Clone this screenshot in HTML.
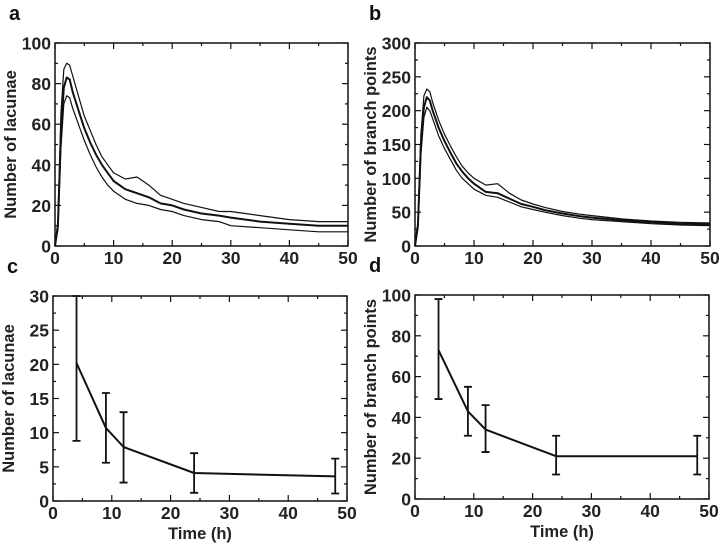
<!DOCTYPE html>
<html><head><meta charset="utf-8"><style>
body{margin:0;background:#fff;width:725px;height:545px;overflow:hidden}
svg{font-family:"Liberation Sans",Arial,sans-serif;font-weight:bold}
</style></head><body>
<svg id="fig" width="725" height="545" viewBox="0 0 725 545"></svg>
<script>
const tA=[0,0.5,1,1.5,2,2.5,3,4,5,6,7,8,9,10,12,14,16,18,20,22,25,28,30,35,40,45,50];
const aMean=[0,10,55,78,83,82,76,67,58,51,45,40,36,32,28,26,24,21,20,18,16,15,14,12,11,10,10];
const aUp=[0,12,65,87,90,89,84,74,64,57,50,44,40,36,33,34,30,25,23,21,19,17,17,15,13,12,12];
const aLow=[0,8,48,70,74,73,68,60,52,45,39,34,30,27,23,21,20,18,17,15,13,12,10,9,8,7,7];
const bMean=[0,30,150,205,220,215,200,175,155,138,122,110,100,92,80,78,70,62,58,53,48,44,42,38,35,33,32];
const bUp=[0,35,165,222,232,228,212,186,165,148,132,118,108,100,90,92,78,68,62,57,51,47,45,40,37,35,34];
const bLow=[0,25,135,190,205,200,188,163,144,128,112,100,92,84,75,72,65,58,54,50,45,41,39,36,33,31,30];
const tC=[4,9,12,24,48];
const cMean=[20.2,10.7,7.9,4.1,3.6];
const cHigh=[31,15.8,13,7,6.2];
const cLow=[8.8,5.6,2.7,1.2,1.1];
const dMean=[73,43,34,21,21];
const dHigh=[98,55,46,31,31];
const dLow=[49,31,23,12,12];
const xTicks=[0,10,20,30,40,50];
const aTicks=[0,20,40,60,80,100];
const bTicks=[0,50,100,150,200,250,300];
const cTicks=[0,5,10,15,20,25,30];
const dTicks=[0,20,40,60,80,100];

const NS="http://www.w3.org/2000/svg";
const svg=document.getElementById('fig');
function mk(tag,attrs,parent){const e=document.createElementNS(NS,tag);for(const k in attrs)e.setAttribute(k,attrs[k]);(parent||svg).appendChild(e);return e;}

function panel(o){
  const g=mk('g',{});
  
  
  const X=v=>o.L+(v-0)/50*(o.R-o.L);
  const Y=v=>o.B-(v-o.ymin)/(o.ymax-o.ymin)*(o.B-o.T);
  const fr=mk('rect',{x:o.L,y:o.T,width:o.R-o.L,height:o.B-o.T,fill:'none',stroke:'#111','stroke-width':1.5},g);
  
  
  for(let v=0;v<=50;v+=5){
    const len=v%10===0?6:3;
    mk('line',{x1:X(v),x2:X(v),y1:o.B,y2:o.B-len,stroke:'#111','stroke-width':1.2},g);
    mk('line',{x1:X(v),x2:X(v),y1:o.T,y2:o.T+len,stroke:'#111','stroke-width':1.2},g);
  }
  xTicks.forEach(v=>{const t=mk('text',{x:X(v),y:o.B+18,'text-anchor':'middle','font-size':17.5,fill:'#222'},g);t.textContent=v;
    });
  const step=o.yt[1]-o.yt[0];
  for(let v=o.ymin;v<=o.ymax+1e-9;v+=step/2){
    const len=Math.abs((v/step)-Math.round(v/step))<1e-6?6:3;
    mk('line',{x1:o.L,x2:o.L+len,y1:Y(v),y2:Y(v),stroke:'#111','stroke-width':1.2},g);
    mk('line',{x1:o.R,x2:o.R-len,y1:Y(v),y2:Y(v),stroke:'#111','stroke-width':1.2},g);
  }
  o.yt.forEach(v=>{const t=mk('text',{x:o.L-4,y:Y(v)+6.5,'text-anchor':'end','font-size':17.5,fill:'#222'},g);t.textContent=v;
    });
  const yl=mk('text',{x:0,y:0,transform:`translate(${o.L-39},${(o.T+o.B)/2}) rotate(-90)`,'text-anchor':'middle','font-size':16.5,fill:'#222'},g);
  yl.textContent=o.ylabel;
  
  const pl=mk('text',{x:o.L-46,y:o.T-23,'font-size':20,fill:'#111'},g);
  pl.textContent=o.letter;
  
  if(o.xlabel){const xl=mk('text',{x:(o.L+o.R)/2,y:o.B+38,'text-anchor':'middle','font-size':16.5,fill:'#222'},g);xl.textContent=o.xlabel;
    }
  return {g,X,Y};
}
function line(p,xs,ys,w,name){
  const d=xs.map((x,i)=>(i?'L':'M')+p.X(x).toFixed(1)+','+p.Y(ys[i]).toFixed(1)).join('');
  const e=mk('path',{d,fill:'none',stroke:'#111','stroke-width':w,'stroke-linejoin':'round'},p.g);
  
  
}
const pa=panel({letter:'a',L:55,R:348,T:43,B:246,ymin:0,ymax:100,yt:aTicks,ylabel:'Number of lacunae'});
line(pa,tA,aUp,1.2,'upper-bound-line');line(pa,tA,aLow,1.2,'lower-bound-line');line(pa,tA,aMean,2,'mean-line');
const pb=panel({letter:'b',L:415,R:710,T:43,B:246,ymin:0,ymax:300,yt:bTicks,ylabel:'Number of branch points'});
line(pb,tA,bUp,1.2,'upper-bound-line');line(pb,tA,bLow,1.2,'lower-bound-line');line(pb,tA,bMean,2,'mean-line');
function errPanel(p,m,hi,lo){
  line(p,tC,m,2,'mean-line');
  tC.forEach((t,i)=>{
    const top=Math.min(hi[i],p.ymax);
    const e=mk('path',{d:`M${p.X(t)},${p.Y(top)}V${p.Y(lo[i])}M${p.X(t)-4},${p.Y(top)}h8M${p.X(t)-4},${p.Y(lo[i])}h8`,stroke:'#111','stroke-width':1.8,fill:'none'},p.g);
    
    
  });
}
const pc=panel({letter:'c',L:53,R:347,T:296,B:501,ymin:0,ymax:30,yt:cTicks,ylabel:'Number of lacunae',xlabel:'Time (h)'});
pc.ymax=30;errPanel(pc,cMean,cHigh,cLow);
const pd=panel({letter:'d',L:415,R:709,T:295,B:499,ymin:0,ymax:100,yt:dTicks,ylabel:'Number of branch points',xlabel:'Time (h)'});
pd.ymax=100;errPanel(pd,dMean,dHigh,dLow);
</script>
</body></html>
